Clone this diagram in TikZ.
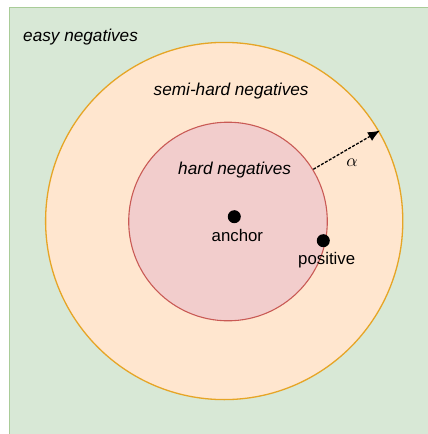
\documentclass[tikz,border=0pt]{standalone}
\usepackage{fontspec}
\setmainfont{Liberation Sans}
\usetikzlibrary{arrows.meta}
\definecolor{easyfill}{HTML}{D8E8D6}
\definecolor{easyline}{HTML}{A9CC98}
\definecolor{semifill}{HTML}{FFE6CF}
\definecolor{semiline}{HTML}{E6A526}
\definecolor{hardfill}{HTML}{F2CDCC}
\definecolor{hardline}{HTML}{C95A55}
\tikzset{
  lbl/.style={font=\fontsize{17.2pt}{20pt}\selectfont\itshape, inner sep=0pt, anchor=base west},
  plainlbl/.style={font=\fontsize{16.8pt}{20pt}\selectfont, inner sep=0pt, anchor=base west},
  dot/.style={circle, fill=black, inner sep=0pt, minimum size=13pt},
}
\begin{document}
\begin{tikzpicture}[x=1pt,y=-1pt]
\useasboundingbox (0,0) rectangle (428,434);
\fill[white] (0,0) rectangle (428,434);
\draw[fill=easyfill, draw=easyline, line width=1pt] (9,7) rectangle (440,446);
\draw[fill=semifill, draw=semiline, line width=1.3pt] (224.2,221) circle[radius=178.6pt];
\draw[fill=hardfill, draw=hardline, line width=1.1pt] (228,221.5) circle[radius=99.3pt];
\node[lbl] (easy) at (23,41) {easy negatives};
\node[lbl] (semi) at (153.5,95.5) {semi-hard negatives};
\node[lbl] (hard) at (178,174) {hard negatives};
\node[dot] (anchor) at (234.3,216.7) {};
\node[plainlbl] (anchorlbl) at (211.5,241.5) {anchor};
\node[dot] (positive) at (323.3,240.7) {};
\node[plainlbl] (positivelbl) at (298,264) {positive};
\coordinate (astart) at (313.3,169.3);
\coordinate (aend) at (380,130.5);
\draw[dashed, dash pattern=on 3pt off 1.5pt, line width=1.3pt, -{Latex[length=12pt,width=10pt]}] (astart) -- (aend);
\node[inner sep=0pt] (alpha) at (352,162.5) {\scalebox{1.75}{$\alpha$}};
\end{tikzpicture}
\end{document}
